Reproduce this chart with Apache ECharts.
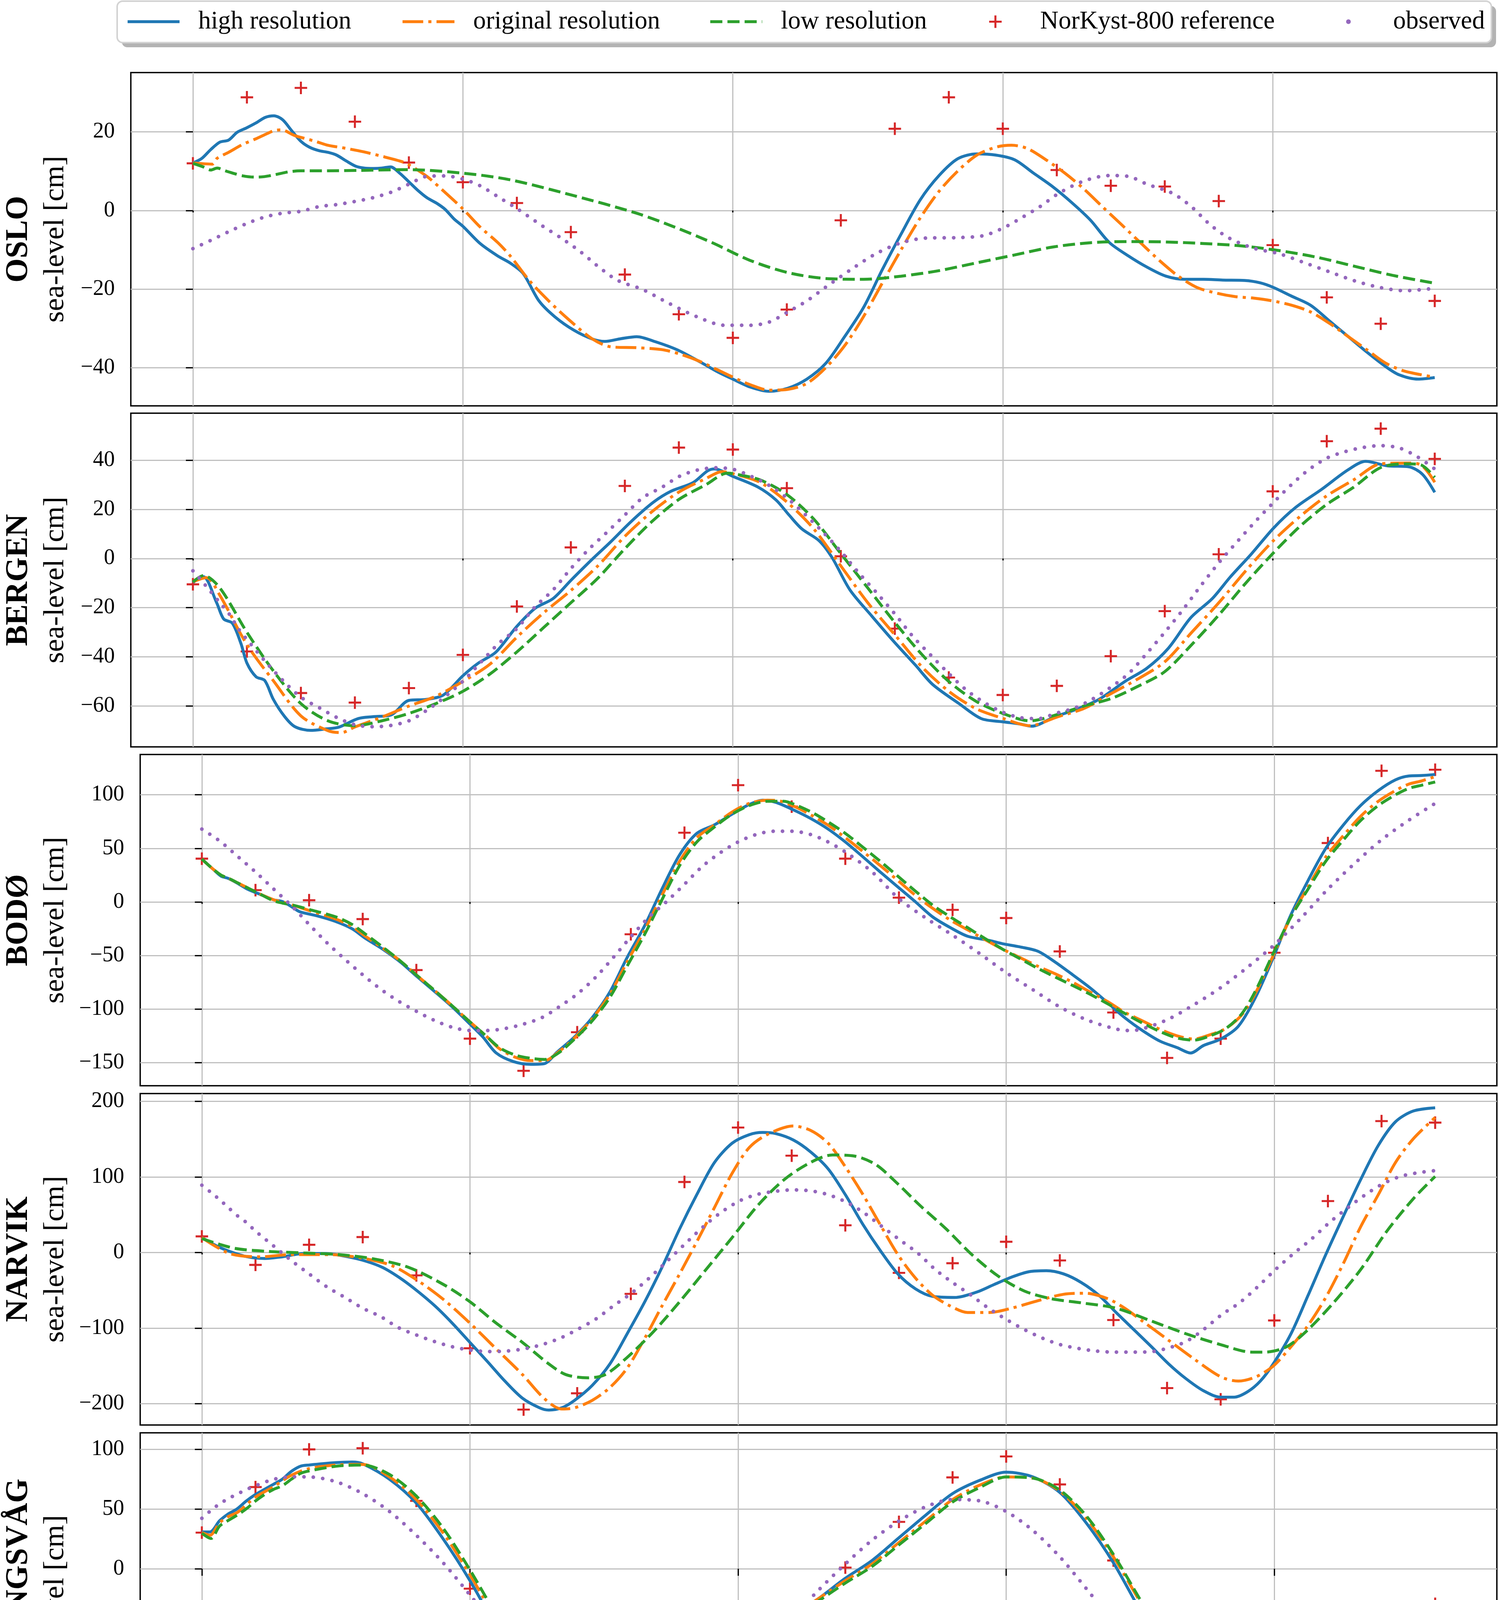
<!DOCTYPE html>
<html><head><meta charset="utf-8">
<script src="https://cdn.jsdelivr.net/npm/echarts@6/dist/echarts.min.js"></script>
<style>html,body{margin:0;padding:0;background:#fff}#c{width:3836px;height:4698px}</style>
</head><body><div id="c"></div>
<script>
// ---------------- DATA ----------------
const stations = ['OSLO', 'BERGEN', 'BODØ', 'NARVIK', 'HONNINGSVÅG'];
const seriesNames = ['high resolution', 'original resolution', 'low resolution', 'NorKyst-800 reference', 'observed'];
const hours = [0,1,2,3,4,5,6,7,8,9,10,11,12,13,14,15,16,17,18,19,20,21,22,23];
const xTickValues = [0, 5, 10, 15, 20];
const yTickValues = [
  [-40, -20, 0, 20],
  [-60, -40, -20, 0, 20, 40],
  [-150, -100, -50, 0, 50, 100],
  [-200, -100, 0, 100, 200],
  [-150, -100, -50, 0, 50, 100]
];
const yLimits = [[-49.7, 35.1], [-76.6, 59.1], [-171.6, 137.6], [-228.2, 210.3], [-163.8, 114.0]];
const xLimits = [-1.15, 24.15];

// OSLO
const osloHigh = [[0,12.1],[0.16,13.2],[0.33,15.5],[0.5,17.4],[0.66,17.9],[0.82,19.9],[0.99,21.0],[1.17,22.3],[1.34,23.7],[1.5,24.1],[1.66,23.1],[1.83,20.3],[2.0,17.6],[2.16,16.1],[2.34,15.2],[2.5,14.8],[2.66,14.1],[2.84,12.6],[3.01,11.3],[3.17,10.8],[3.35,10.7],[3.5,10.8],[3.66,11.1],[3.83,9.5],[4.0,7.3],[4.16,5.2],[4.34,3.2],[4.52,1.8],[4.67,0.3],[4.84,-2.2],[5.0,-4.0],[5.32,-8.4],[5.65,-11.6],[5.88,-13.4],[6.12,-16.1],[6.41,-23.0],[6.7,-27.0],[7.05,-30.4],[7.4,-32.7],[7.63,-33.3],[7.93,-32.6],[8.22,-32.1],[8.57,-33.4],[8.98,-35.5],[9.39,-38.5],[9.74,-41.2],[10.0,-42.9],[10.32,-44.9],[10.67,-46.0],[11.02,-45.2],[11.37,-42.9],[11.72,-38.9],[12.07,-32.1],[12.42,-24.7],[12.77,-15.0],[13.12,-5.9],[13.47,2.7],[13.82,8.9],[14.17,13.2],[14.52,14.4],[14.87,14.1],[15.22,12.9],[15.57,9.5],[15.92,6.1],[16.27,2.1],[16.62,-2.4],[16.97,-8.1],[17.32,-11.5],[17.67,-14.4],[18.02,-16.7],[18.37,-17.5],[18.72,-17.5],[19.07,-17.7],[19.48,-17.8],[19.77,-18.4],[20.0,-19.5],[20.35,-21.8],[20.7,-24.1],[21.05,-28.1],[21.4,-32.1],[21.75,-36.1],[22.1,-39.8],[22.34,-41.8],[22.69,-42.9],[23.0,-42.5]];
const osloOriginal = [[0,12.1],[0.36,11.8],[0.45,13.3],[0.66,14.8],[0.92,16.8],[1.16,18.2],[1.38,19.6],[1.52,20.4],[1.64,20.5],[1.88,19.1],[2.0,18.6],[2.27,17.6],[2.5,16.6],[2.84,15.8],[3.17,14.9],[3.5,13.8],[3.83,12.6],[3.98,11.8],[4.34,8.6],[4.67,4.6],[5.0,0.4],[5.32,-4.2],[5.65,-8.2],[5.88,-11.6],[6.23,-17.8],[6.59,-23.0],[6.94,-27.5],[7.4,-32.7],[7.75,-34.7],[8.22,-34.9],[8.69,-35.4],[9.04,-36.6],[9.39,-38.4],[10.0,-42.4],[10.32,-44.3],[10.67,-45.7],[11.02,-45.5],[11.37,-44.0],[11.72,-40.0],[12.07,-34.4],[12.42,-27.0],[12.77,-18.4],[13.12,-9.9],[13.47,-1.9],[13.82,4.9],[14.17,10.1],[14.52,14.1],[14.87,16.1],[15.16,16.6],[15.45,15.8],[15.8,12.9],[16.15,9.5],[16.5,5.5],[16.85,0.9],[17.2,-3.6],[17.55,-8.2],[17.9,-12.7],[18.25,-16.7],[18.6,-19.6],[18.95,-21.0],[19.3,-21.9],[19.65,-22.3],[20.0,-23.0],[20.35,-24.1],[20.7,-25.8],[21.05,-28.7],[21.4,-32.1],[21.75,-35.5],[22.1,-38.9],[22.45,-40.9],[23.0,-42.4]];
const osloLow = [[0,12.0],[0.19,11.1],[0.33,10.3],[0.45,10.8],[0.6,10.1],[0.74,9.5],[0.93,8.8],[1.14,8.5],[1.31,8.6],[1.52,9.1],[1.76,9.8],[2.0,10.1],[2.5,10.1],[3.08,10.2],[3.98,10.4],[5.0,9.5],[5.88,7.8],[7.05,3.8],[8.22,-0.7],[8.92,-4.2],[9.62,-8.2],[10.32,-12.7],[11.02,-15.8],[11.72,-17.3],[12.42,-17.5],[13.12,-16.7],[13.82,-15.3],[14.52,-13.3],[15.22,-11.3],[15.92,-9.3],[16.62,-8.2],[17.32,-7.9],[18.02,-8.0],[18.72,-8.4],[19.42,-9.0],[20.12,-10.2],[20.82,-11.9],[21.52,-14.2],[22.22,-16.5],[23.0,-18.5]];
const osloObserved = [[0,-9.7],[0.33,-7.6],[0.66,-5.4],[1.0,-3.3],[1.32,-1.7],[1.65,-0.7],[2.0,-0.2],[2.34,1.0],[2.66,1.5],[3.0,2.3],[3.32,3.2],[3.68,4.7],[4.0,6.7],[4.34,8.7],[4.67,8.8],[5.0,8.0],[5.32,6.3],[5.65,3.5],[6.0,0.5],[6.47,-3.9],[6.82,-7.0],[7.17,-10.4],[7.52,-14.4],[7.87,-17.8],[8.33,-20.1],[8.8,-23.5],[9.33,-27.0],[9.85,-29.2],[10.32,-29.2],[10.67,-28.4],[11.02,-25.8],[11.37,-23.0],[11.72,-19.5],[12.19,-15.0],[12.65,-11.0],[13.12,-8.2],[13.59,-7.0],[14.17,-6.9],[14.64,-6.4],[15.0,-4.5],[15.34,-1.9],[15.69,1.0],[16.04,4.4],[16.5,7.5],[16.97,8.9],[17.32,8.7],[17.67,6.7],[18.14,4.4],[18.49,1.0],[18.84,-3.6],[19.19,-7.0],[19.65,-9.6],[20.12,-11.0],[20.59,-13.3],[21.05,-15.6],[21.52,-17.9],[21.99,-19.6],[22.45,-20.4],[23.0,-19.8]];
const osloReference = [12.0, 28.8, 31.2, 22.6, 12.2, 7.2, 1.9, -5.5, -16.3, -26.4, -32.4, -25.2, -2.5, 20.8, 28.8, 20.8, 10.3, 6.3, 6.1, 2.4, -8.8, -22.1, -28.8, -23.0];

// BERGEN
const bergenHigh = [[0,-9.8],[0.19,-7.4],[0.44,-18.0],[0.57,-24.6],[0.73,-26.3],[0.89,-34.6],[1.0,-42.5],[1.17,-48.1],[1.33,-49.6],[1.49,-57.3],[1.7,-64.3],[1.89,-68.4],[2.18,-69.9],[2.46,-69.3],[2.7,-68.6],[3.06,-65.1],[3.35,-64.3],[3.67,-63.6],[4.0,-57.7],[4.32,-57.3],[4.64,-55.5],[5.0,-47.7],[5.29,-42.5],[5.61,-38.1],[6.0,-27.6],[6.34,-20.2],[6.67,-16.3],[7.0,-8.9],[7.4,-0.2],[7.72,6.4],[8.12,15.1],[8.53,22.9],[8.85,27.3],[9.26,30.8],[9.53,35.6],[9.66,36.4],[10.0,33.4],[10.47,29.0],[10.8,23.8],[11.04,17.7],[11.28,12.0],[11.6,7.2],[11.84,0.3],[12.17,-12.8],[12.57,-23.3],[12.98,-33.7],[13.38,-43.3],[13.7,-51.2],[14.19,-59.0],[14.6,-65.1],[15.0,-66.4],[15.32,-67.3],[15.53,-68.2],[15.97,-64.3],[16.38,-61.2],[16.78,-57.3],[17.27,-49.9],[17.67,-44.6],[18.07,-36.4],[18.48,-24.1],[18.88,-16.3],[19.21,-7.6],[19.61,2.0],[20.02,12.5],[20.42,20.7],[20.91,28.2],[21.39,36.0],[21.72,39.5],[22.12,37.7],[22.52,37.3],[22.77,34.3],[23.0,26.9]];
const bergenOriginal = [[0,-9.5],[0.25,-7.8],[0.5,-15],[1.0,-35],[1.5,-50],[2.0,-64],[2.5,-70],[2.75,-70.8],[3.0,-68.5],[3.5,-64.5],[4.0,-60],[4.5,-56],[5.0,-50],[5.5,-43],[6.0,-32],[6.5,-22],[7.0,-13],[7.5,-3],[8.0,9],[8.5,19],[9.0,27],[9.5,32.5],[9.8,35.3],[10.0,34.5],[10.5,31],[11.0,23],[11.5,12],[12.0,-3],[12.5,-18],[13.0,-31],[13.5,-44],[14.0,-54],[14.5,-61],[15.0,-65],[15.5,-68],[16.0,-64.5],[16.5,-61],[17.0,-55],[17.5,-49],[18.0,-42],[18.5,-30],[19.0,-18],[19.5,-5],[20.0,7],[20.5,17],[21.0,25.5],[21.5,32],[22.0,38.5],[22.5,38.8],[22.75,38],[23.0,31]];
const bergenLow = [[0,-9.5],[0.2,-6.9],[0.5,-12],[1.0,-30],[1.5,-46],[2.0,-59],[2.5,-66],[3.0,-68],[3.5,-66],[4.0,-63],[4.5,-59],[5.0,-54],[5.5,-47],[6.0,-38],[6.5,-28],[7.0,-18],[7.5,-8],[8.0,4],[8.5,15],[9.0,24],[9.5,30],[9.9,34.7],[10.0,34.5],[10.5,32],[11.0,26],[11.5,16],[12.0,2],[12.5,-12],[13.0,-26],[13.5,-39],[14.0,-50],[14.5,-58],[15.0,-63],[15.5,-66],[16.0,-63.5],[16.5,-60],[17.0,-57],[17.5,-52],[18.0,-46],[18.5,-35],[19.0,-23],[19.5,-10],[20.0,2],[20.5,13],[21.0,22],[21.5,29],[22.0,37],[22.5,38.5],[22.75,38],[23.0,33]];
const bergenObserved = [[0,-5.0],[0.16,-9],[0.33,-13.5],[0.5,-18],[0.68,-22.8],[0.84,-28.5],[1.0,-32.9],[1.33,-41.6],[1.68,-49.9],[2.0,-56.4],[2.35,-60.8],[2.67,-64.7],[3.0,-67.6],[3.33,-68.4],[3.66,-67.9],[4.0,-66.0],[4.34,-61.6],[4.66,-56.4],[5.0,-49.9],[5.32,-42.5],[5.66,-34.6],[6.0,-28.5],[6.33,-19.8],[6.67,-12.8],[7.0,-4.1],[7.33,3.7],[7.67,10.7],[8.0,17.7],[8.33,24.7],[8.69,29.0],[9.01,33.4],[9.35,36.0],[9.68,36.9],[10.02,36.2],[10.34,33.4],[10.66,29.9],[11.0,24.7],[11.33,18.1],[11.67,10.7],[12.0,2.9],[12.33,-5.8],[12.67,-14.1],[13.01,-22.8],[13.33,-31.6],[13.67,-39.4],[14.0,-46.8],[14.32,-53.4],[14.66,-58.6],[15.0,-62.5],[15.32,-64.7],[15.66,-65.1],[15.99,-62.9],[16.33,-60.8],[16.65,-57.3],[16.99,-52.5],[17.33,-46.8],[17.67,-38.5],[18.0,-30],[18.33,-21],[18.67,-11],[19.01,-1.5],[19.34,6.8],[19.68,15.1],[20.02,22.9],[20.34,29.9],[20.66,36.0],[21.0,40.8],[21.33,43.4],[21.66,45.1],[22.0,45.9],[22.35,44.9],[22.69,41.2],[23.0,36.4]];
const bergenReference = [-10.5, -37.8, -54.7, -58.6, -52.7, -39.2, -19.5, 4.5, 29.5, 45.1, 44.3, 28.6, 0.9, -28.5, -48.4, -55.5, -51.8, -39.7, -21.4, 1.7, 27.3, 47.7, 52.8, 40.5];

// BODØ
const bodoHigh = [[0,40],[0.2,31],[0.36,24],[0.49,22],[0.68,17],[0.85,12],[1.09,7],[1.34,2],[1.5,0.4],[1.66,-4],[1.82,-9],[2.15,-13],[2.48,-18],[2.8,-25],[3.05,-34],[3.37,-44],[3.7,-56],[4.02,-70],[4.35,-84],[4.67,-98],[5.0,-114],[5.24,-126],[5.49,-141],[5.81,-149],[6.14,-151.6],[6.38,-151],[6.63,-140],[6.95,-126],[7.28,-108],[7.61,-84],[7.93,-52],[8.26,-22],[8.58,12],[8.91,44],[9.23,64],[9.56,72],[9.89,82],[10.21,91],[10.46,95],[10.7,93],[11.03,86],[11.35,78],[11.68,68],[12.0,56],[12.33,42],[12.65,28],[12.98,14],[13.31,0],[13.63,-14],[13.96,-24],[14.28,-32],[14.69,-36],[14.93,-39],[15.26,-42],[15.59,-46],[15.91,-56],[16.24,-68],[16.56,-80],[16.89,-94],[17.21,-108],[17.54,-120],[17.87,-130],[18.19,-136],[18.44,-141],[18.68,-134],[19.0,-128],[19.33,-116],[19.66,-88],[19.98,-52],[20.31,-12],[20.63,20],[20.96,50],[21.29,72],[21.61,90],[21.94,104],[22.26,114],[22.51,117.6],[22.75,118],[23.0,119]];
const bodoOriginal = [[0,40],[0.2,31],[0.36,25],[0.5,22],[0.7,17],[0.9,12],[1.1,7],[1.34,2],[1.5,0],[1.7,-3],[2.0,-8],[2.5,-16],[2.8,-23],[3.05,-32],[3.37,-43],[3.7,-55],[4.02,-69],[4.35,-83],[4.67,-97],[5.0,-112],[5.3,-125],[5.55,-137],[5.85,-145],[6.14,-148],[6.4,-148],[6.65,-140],[6.95,-127],[7.28,-109],[7.61,-86],[7.93,-56],[8.26,-26],[8.58,6],[8.91,38],[9.23,60],[9.56,72],[9.89,84],[10.21,92],[10.55,95],[10.8,94],[11.1,88],[11.4,80],[11.7,71],[12.0,60],[12.33,47],[12.65,34],[12.98,20],[13.31,6],[13.63,-6],[13.96,-17],[14.28,-26],[14.6,-35],[14.93,-44],[15.26,-52],[15.59,-60],[15.91,-67],[16.24,-75],[16.56,-84],[16.89,-93],[17.21,-103],[17.54,-111],[17.87,-119],[18.19,-125],[18.5,-128],[18.8,-124],[19.1,-118],[19.4,-105],[19.66,-84],[19.98,-50],[20.31,-14],[20.63,14],[20.96,42],[21.29,62],[21.61,80],[21.94,94],[22.26,104],[22.51,110],[22.75,113],[23.0,117]];
const bodoLow = [[0,40],[0.2,31],[0.36,25],[0.5,22],[0.7,17],[0.9,12],[1.1,7],[1.34,1],[1.5,-1],[1.7,-3],[2.0,-7],[2.5,-14],[2.8,-21],[3.05,-30],[3.37,-42],[3.7,-55],[4.02,-69],[4.35,-83],[4.67,-97],[5.0,-112],[5.3,-125],[5.55,-136],[5.85,-143],[6.14,-146],[6.4,-147],[6.65,-141],[6.95,-128],[7.28,-111],[7.61,-89],[7.93,-60],[8.26,-30],[8.58,2],[8.91,34],[9.23,56],[9.56,70],[9.89,82],[10.21,90],[10.55,94],[10.85,94],[11.1,90],[11.4,83],[11.7,74],[12.0,64],[12.33,51],[12.65,38],[12.98,24],[13.31,10],[13.63,-3],[13.96,-14],[14.28,-24],[14.6,-34],[14.93,-44],[15.26,-53],[15.59,-62],[15.91,-70],[16.24,-78],[16.56,-86],[16.89,-95],[17.21,-104],[17.54,-113],[17.87,-121],[18.19,-127],[18.5,-129],[18.8,-125],[19.1,-118],[19.4,-104],[19.66,-82],[19.98,-48],[20.31,-14],[20.63,12],[20.96,38],[21.29,58],[21.61,76],[21.94,90],[22.26,100],[22.51,106],[22.75,109],[23.0,112]];
const bodoObserved = [[0,68],[0.33,57],[0.67,42.4],[1.0,28],[1.34,12],[1.68,-4],[2.0,-21],[2.33,-38],[2.67,-53.6],[3.0,-68],[3.34,-81.6],[3.66,-92.4],[4.0,-102],[4.33,-110.4],[4.67,-117],[5.0,-120],[5.33,-120],[5.67,-118],[6.0,-114],[6.34,-108],[6.66,-98],[7.0,-86],[7.35,-70],[7.67,-52],[8.01,-32],[8.34,-14],[8.66,0],[9.01,17],[9.33,33],[9.67,46],[10.0,56],[10.34,63],[10.67,66],[11.01,66],[11.35,63],[11.68,56],[12.02,46],[12.5,28],[13.0,3],[13.5,-15],[14.0,-31],[14.5,-48],[15.0,-66],[15.5,-82],[16.0,-98],[16.5,-110],[17.0,-118],[17.25,-120],[17.5,-119],[18.0,-110],[18.5,-96],[19.0,-80],[19.5,-61],[20.0,-40],[20.5,-15],[21.0,12],[21.5,36],[22.0,58],[22.5,76],[23.0,92]];
const bodoReference = [40.4, 11, 1.6, -16, -63.6, -127.6, -157.6, -121.6, -30.2, 64.6, 109, 89, 40.4, 4, -7.4, -15, -46.2, -103.2, -145.6, -127.6, -47.4, 55, 122.4, 123.4];

// NARVIK
const narvikHigh = [[0,19.8],[0.28,8.5],[0.52,1.4],[0.85,-5.7],[1.17,-7.9],[1.5,-5.7],[1.9,-1.4],[2.31,-1.4],[2.72,-5.7],[3.05,-11.3],[3.37,-19.8],[3.7,-34],[4.02,-51],[4.35,-70.9],[4.67,-93.5],[5.0,-119],[5.33,-144.6],[5.65,-170],[5.98,-192.8],[6.3,-205.5],[6.47,-208.4],[6.71,-205.5],[6.95,-195.6],[7.28,-175.8],[7.61,-147.4],[7.93,-107.7],[8.26,-65.2],[8.58,-19.8],[8.91,31.2],[9.23,76.5],[9.56,119.1],[9.89,144.6],[10.21,155.9],[10.46,158.8],[10.7,157.3],[11.03,148.8],[11.35,133.2],[11.68,110.6],[12.0,76.5],[12.33,36.9],[12.65,2.8],[12.98,-28.3],[13.31,-48.2],[13.63,-58.1],[14.04,-59.5],[14.45,-52.4],[14.77,-42.5],[15.1,-32.6],[15.42,-25.5],[15.75,-24.1],[16.07,-28.3],[16.4,-39.7],[16.73,-56.7],[17.05,-79.4],[17.38,-102],[17.71,-124.7],[18.03,-147.4],[18.36,-167.3],[18.68,-182.9],[19.0,-191.4],[19.25,-191.4],[19.5,-184.3],[19.74,-170.1],[19.98,-147.4],[20.31,-107.7],[20.63,-56.7],[20.96,-2.8],[21.29,48.2],[21.61,96.4],[21.94,141.7],[22.26,172.9],[22.59,187.1],[23.0,191.4]];
const narvikOriginal = [[0,19.8],[0.52,-1.4],[1.09,-5.7],[1.66,-2.8],[2.39,-2.8],[2.96,-7.1],[3.53,-17],[4.02,-36.9],[4.51,-62.4],[5.0,-93.5],[5.49,-127.6],[5.98,-161.6],[6.38,-192.8],[6.71,-207],[6.95,-205.5],[7.28,-195.6],[7.61,-178.6],[7.93,-153.1],[8.26,-113.4],[8.58,-70.9],[8.91,-28.3],[9.23,14.2],[9.56,59.5],[9.89,104.9],[10.21,138.9],[10.54,155.9],[11.03,167.3],[11.35,161.6],[11.68,144.6],[12.0,113.4],[12.33,76.5],[12.65,36.9],[12.98,-2.8],[13.31,-34],[13.63,-56.7],[13.96,-70.9],[14.28,-79.4],[14.69,-79.4],[15.1,-73.7],[15.59,-63.8],[16.07,-55.3],[16.48,-53.9],[16.89,-61],[17.21,-73.7],[17.54,-90.7],[18.03,-116.2],[18.52,-141.7],[19.0,-164.4],[19.33,-170.1],[19.66,-164.4],[19.98,-150.2],[20.31,-124.7],[20.63,-96.4],[20.96,-59.5],[21.29,-14.2],[21.61,34],[21.94,76.5],[22.26,119.1],[22.59,150.2],[23.0,178.6]];
const narvikLow = [[0,18.4],[0.6,5.7],[1.25,1.4],[1.9,-0.6],[2.56,-2.8],[3.21,-8.5],[3.86,-19.8],[4.51,-42.5],[5.0,-65.2],[5.49,-93.5],[5.98,-119],[6.47,-147.4],[6.79,-161.6],[7.2,-165.8],[7.52,-161.6],[7.93,-138.9],[8.42,-104.9],[8.91,-65.2],[9.4,-22.7],[9.89,19.8],[10.37,62.4],[10.86,96.4],[11.35,119.1],[11.76,129],[12.17,127.6],[12.57,116.2],[12.98,90.7],[13.39,62.4],[13.88,31.2],[14.36,-2.8],[14.85,-31.2],[15.34,-51],[15.83,-61],[16.4,-66.6],[17.05,-73.7],[17.71,-90.7],[18.36,-107.7],[19.0,-121.9],[19.58,-131.8],[19.82,-131.8],[20.23,-124.7],[20.63,-102],[21.12,-65.2],[21.61,-22.7],[22.1,28.3],[22.59,70.9],[23.0,100.6]];
const narvikObserved = [[0,89],[0.16,80],[0.33,70],[0.5,59],[0.67,48.2],[0.83,39.7],[1.0,28.3],[1.34,8.5],[1.68,-11.3],[2.0,-28.3],[2.33,-45.4],[2.67,-59.5],[3.0,-73.7],[3.34,-85],[3.66,-99.2],[4.0,-109.1],[4.33,-117.6],[4.67,-124.7],[5.0,-129],[5.34,-131],[5.68,-130.4],[6.0,-127.6],[6.34,-121.9],[6.68,-113.4],[7.0,-102],[7.35,-87.9],[7.67,-70.9],[8.01,-53.9],[8.34,-34],[8.68,-11.3],[9.01,11.3],[9.35,34],[9.67,52.4],[10.02,68],[10.34,76.5],[10.68,80.8],[11.01,82.8],[11.35,81.6],[11.68,76.5],[12.02,66.6],[12.35,52.4],[12.69,34],[13.01,17],[13.36,-1.4],[13.68,-22.7],[14.0,-39.7],[14.35,-56.7],[14.67,-73.7],[15.02,-89.3],[15.34,-102],[15.68,-113.4],[16.01,-121.9],[16.35,-127],[16.68,-130.4],[17.02,-131.8],[17.35,-131.8],[17.69,-131.3],[18.03,-126.2],[18.36,-117.6],[18.68,-102],[19.02,-82.2],[19.35,-66.6],[19.69,-45.4],[20.02,-22.7],[20.36,-1.4],[20.68,17],[21.03,39.7],[21.35,58.1],[21.7,76.5],[22.02,90.7],[22.35,100.6],[22.68,105.5],[23.0,108.3]];
const narvikReference = [21.3, -16.4, 10.2, 20.4, -30.3, -126.7, -207.8, -186.3, -54.7, 93.3, 165.3, 128.1, 36, -26.9, -14.2, 14.2, -10.5, -89.3, -179.4, -194.2, -89.9, 68, 173.8, 171.8];

// HONNINGSVÅG
const honningsvagHigh = [[0,30.9],[0.15,30.9],[0.33,40.2],[0.48,45.6],[0.65,50],[0.82,56.5],[0.99,62],[1.16,66.4],[1.33,70.7],[1.5,75.1],[1.67,81.7],[1.84,86],[2.0,87],[2.5,89],[2.8,89.5],[3.0,88],[3.5,75],[4.0,55],[4.5,25],[5.0,-10],[5.5,-50],[6.0,-88],[6.5,-115],[7.0,-135],[7.5,-146],[7.75,-149],[8.0,-148],[8.5,-138],[9.0,-120],[9.5,-100],[10.0,-78],[10.5,-58],[11.0,-40],[11.5,-25],[12.0,-8],[12.5,7],[13.0,26],[13.5,45],[14.0,63],[14.5,74],[15.0,81],[15.5,77],[16.0,64],[16.5,38],[17.0,5],[17.5,-35],[18.0,-72],[18.5,-102],[19.0,-125],[19.5,-135],[20.0,-141],[20.5,-136],[21.0,-125],[21.5,-102],[22.0,-80],[22.5,-58],[23.0,-35]];
const honningsvagOriginal = [[0,30.3],[0.15,28.1],[0.33,38.5],[0.48,43.4],[0.68,47.8],[0.99,59.8],[1.33,68.6],[1.67,78.4],[2.0,84],[2.5,87],[3.0,87.5],[3.5,77],[4.0,58],[4.5,30],[5.0,-5],[5.5,-44],[6.0,-83],[6.5,-112],[7.0,-133],[7.5,-145],[8.0,-149],[8.5,-140],[9.0,-121],[9.5,-99],[10.0,-77],[10.5,-57],[11.0,-40],[11.5,-25],[12.0,-10],[12.5,4],[13.0,22],[13.5,40],[14.0,58],[14.5,70],[15.0,77],[15.5,76],[16.0,65],[16.5,42],[17.0,10],[17.5,-28],[18.0,-66],[18.5,-99],[19.0,-123],[19.5,-135],[20.0,-143],[20.5,-138],[21.0,-126],[21.5,-103],[22.0,-82],[22.5,-60],[23.0,-33]];
const honningsvagLow = [[0,29.8],[0.17,25.4],[0.33,35.8],[0.48,40.2],[0.68,45.6],[0.85,51],[0.99,56.5],[1.16,62],[1.33,66.4],[1.5,69.6],[1.67,75.1],[1.84,80],[2.0,82],[2.5,86],[3.0,87],[3.5,79],[4.0,61],[4.5,34],[5.0,-1],[5.5,-40],[6.0,-80],[6.5,-110],[7.0,-132],[7.5,-144],[8.0,-150],[8.5,-142],[9.0,-123],[9.5,-100],[10.0,-78],[10.5,-58],[11.0,-42],[11.5,-27],[12.0,-12],[12.5,2],[13.0,20],[13.5,38],[14.0,56],[14.5,68],[15.0,77],[15.5,76],[16.0,66],[16.5,44],[17.0,12],[17.5,-26],[18.0,-63],[18.5,-97],[19.0,-121],[19.5,-134],[20.0,-142],[20.5,-139],[21.0,-128],[21.5,-105],[22.0,-84],[22.5,-62],[23.0,-36]];
const honningsvagObserved = [[0,42.3],[0.17,48.9],[0.33,54.4],[0.5,59],[0.67,62.9],[0.83,66.4],[1.0,69.6],[1.33,74.9],[1.67,77.1],[2.0,77],[2.5,73],[3.0,63],[3.5,48],[4.0,28],[4.5,5],[5.0,-22],[5.5,-50],[6.0,-75],[6.5,-95],[7.0,-110],[7.5,-122],[8.0,-128],[8.5,-127],[9.0,-120],[9.5,-106],[10.0,-88],[10.5,-66],[11.0,-42],[11.5,-18],[12.0,4],[12.5,24],[13.0,40],[13.5,52],[14.0,58],[14.5,57],[15.0,48],[15.5,32],[16.0,10],[16.5,-17],[17.0,-45],[17.5,-72],[18.0,-95],[18.5,-113],[19.0,-124],[19.5,-130],[20.0,-130],[20.5,-126],[21.0,-116],[21.5,-100],[22.0,-80],[22.5,-60],[23.0,-38]];
const honningsvagReference = [30.3, 68.5, 100.1, 101.1, 56.9, -16.7, -92.3, -142.3, -150.2, -119.8, -74.6, -34.4, 1.0, 39.3, 76.6, 94.2, 70.7, 6.9, -64.8, -121.7, -139.4, -122.7, -75.6, -29.4];

// ---------------- LAYOUT / STYLE ----------------
const FONT = 'Liberation Serif';
const panels = [
  { high: osloHigh, orig: osloOriginal, low: osloLow, obs: osloObserved, ref: osloReference },
  { high: bergenHigh, orig: bergenOriginal, low: bergenLow, obs: bergenObserved, ref: bergenReference },
  { high: bodoHigh, orig: bodoOriginal, low: bodoLow, obs: bodoObserved, ref: bodoReference },
  { high: narvikHigh, orig: narvikOriginal, low: narvikLow, obs: narvikObserved, ref: narvikReference },
  { high: honningsvagHigh, orig: honningsvagOriginal, low: honningsvagLow, obs: honningsvagObserved, ref: honningsvagReference }
];
const gridTop = [185.7, 1057.7, 1931.6, 2799.4, 3668];
const gridBottomEdge = [1039, 1912, 2779.6, 3648, 4516];
const gridLeft = [324, 324, 348, 348, 348];
const rightEdge = 3833;
const colors = { high: '#1f77b4', orig: '#ff7f0e', low: '#2ca02c', ref: '#d62728', obs: '#9467bd' };
const LW = 7.5;
const dashOrig = [53, 13, 8, 13];
const dashLow = [31, 13];
const plusPath = 'path://M42,0H58V42H100V58H58V100H42V58H0V42H42Z';
const fmt = v => (v < 0 ? '\u2212' + Math.abs(v) : String(v));

const grids = [], xAxes = [], yAxes = [], series = [];
panels.forEach((p, i) => {
  grids.push({
    left: gridLeft[i], top: gridTop[i],
    width: rightEdge - gridLeft[i], height: gridBottomEdge[i] - gridTop[i],
    show: true, borderColor: '#000', borderWidth: 3.5, backgroundColor: 'rgba(0,0,0,0)', containLabel: false
  });
  const last = i === panels.length - 1;
  xAxes.push({
    gridIndex: i, type: 'value', min: xLimits[0], max: xLimits[1],
    axisLine: { show: false },
    axisTick: { show: true, inside: false, length: last ? 18 : 5, customValues: xTickValues, lineStyle: { color: '#000', width: 3.3 } },
    axisLabel: { show: last, customValues: xTickValues, margin: 30, fontFamily: FONT, fontSize: 56, color: '#000', formatter: fmt },
    splitLine: { show: true, lineStyle: { color: '#c0c0c0', width: 3 } },
    name: last ? 'time [h]' : '', nameLocation: 'middle', nameGap: 100,
    nameTextStyle: { fontFamily: FONT, fontSize: 78, color: '#000' }
  });
  yAxes.push({
    gridIndex: i, type: 'value', min: yLimits[i][0], max: yLimits[i][1],
    axisLine: { show: false },
    axisTick: { show: true, inside: false, length: 18, customValues: yTickValues[i], lineStyle: { color: '#000', width: 3.3 } },
    axisLabel: { customValues: yTickValues[i], margin: 41, fontFamily: FONT, fontSize: 56, color: '#000', formatter: fmt },
    splitLine: { show: true, lineStyle: { color: '#c0c0c0', width: 3 } },
    name: '{b|' + stations[i] + '}\n{n|sea-level [cm]}',
    nameLocation: 'middle', nameRotate: 90, nameGap: gridLeft[i] - 178,
    nameTextStyle: {
      rich: {
        b: { fontFamily: FONT, fontWeight: 'bold', fontSize: 80, lineHeight: 94, color: '#000' },
        n: { fontFamily: FONT, fontSize: 75, lineHeight: 94, color: '#000' }
      }
    }
  });
  const lineBase = (name, data, color, type) => ({
    name, type: 'line', xAxisIndex: i, yAxisIndex: i, data,
    symbol: 'none', showSymbol: false, smooth: 0.3, animation: false,
    lineStyle: { color, width: LW, type, cap: 'butt' },
    itemStyle: { color }
  });
  series.push(lineBase(seriesNames[0], p.high, colors.high, 'solid'));
  series.push(lineBase(seriesNames[1], p.orig, colors.orig, dashOrig));
  series.push(lineBase(seriesNames[2], p.low, colors.low, dashLow));
  series.push({
    name: seriesNames[3], type: 'scatter', xAxisIndex: i, yAxisIndex: i,
    data: hours.map((h, k) => [h, p.ref[k]]),
    symbol: plusPath, symbolSize: 32, itemStyle: { color: colors.ref, opacity: 1 }, animation: false
  });
  series.push({
    name: seriesNames[4], type: 'line', xAxisIndex: i, yAxisIndex: i, data: p.obs,
    symbol: 'none', showSymbol: false, smooth: 0.3, animation: false,
    lineStyle: { color: colors.obs, width: 9.5, type: [0.1, 24], cap: 'round' },
    itemStyle: { color: colors.obs }
  });
});

const legendText = { fontFamily: FONT, fontSize: 65, color: '#000', padding: [0, 0, 0, 43] };
const legendCommon = { orient: 'horizontal', padding: 0, itemWidth: 133, selectedMode: false, textStyle: legendText, z: 10 };
// left edges of legend boxes (the bounding box of the visible icon)
const legendLefts = [323, 1027, 1815, 2533, 3447];
const legendTop = 23;
const legends = [
  Object.assign({}, legendCommon, { left: legendLefts[0], top: legendTop, itemHeight: 14,
    data: [{ name: seriesNames[0], itemStyle: { opacity: 0 }, lineStyle: { width: LW, color: colors.high, type: 'solid' } }] }),
  Object.assign({}, legendCommon, { left: legendLefts[1], top: legendTop, itemHeight: 14,
    data: [{ name: seriesNames[1], itemStyle: { opacity: 0 }, lineStyle: { width: LW, color: colors.orig, type: dashOrig } }] }),
  Object.assign({}, legendCommon, { left: legendLefts[2], top: legendTop, itemHeight: 14,
    data: [{ name: seriesNames[2], itemStyle: { opacity: 0 }, lineStyle: { width: LW, color: colors.low, type: dashLow } }] }),
  Object.assign({}, legendCommon, { left: legendLefts[3], top: legendTop, itemHeight: 32,
    data: [{ name: seriesNames[3], icon: plusPath }] }),
  Object.assign({}, legendCommon, { left: legendLefts[4], top: legendTop, itemHeight: 12,
    data: [{ name: seriesNames[4], icon: 'circle', lineStyle: { opacity: 0 } }] })
];

const chart = echarts.init(document.getElementById('c'), null, { renderer: 'canvas' });
chart.setOption({
  animation: false,
  backgroundColor: '#ffffff',
  graphic: {
    elements: [
      { type: 'rect', z: 1, shape: { x: 312, y: 15, width: 3519, height: 106, r: 14 }, style: { fill: '#b3b3b3' } },
      { type: 'rect', z: 2, shape: { x: 300, y: 3, width: 3519, height: 106, r: 14 }, style: { fill: '#ffffff', stroke: '#d3d3d3', lineWidth: 4 } }
    ]
  },
  legend: legends,
  grid: grids,
  xAxis: xAxes,
  yAxis: yAxes,
  series: series
});
</script>
</body></html>
